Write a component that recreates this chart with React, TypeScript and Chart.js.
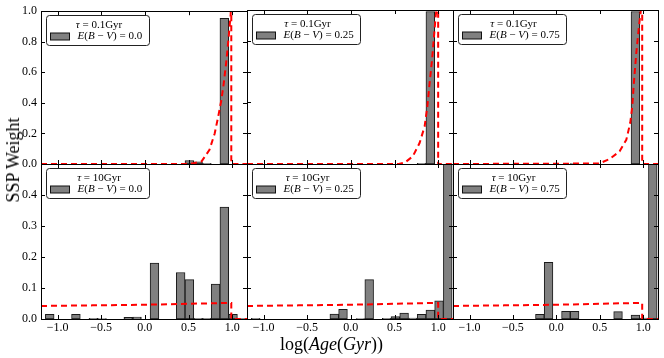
import React, { useEffect, useRef } from 'react';
import { Chart, registerables } from 'chart.js';

Chart.register(...registerables);

const PAGE_W = 664;
const PAGE_H = 358;
const FONT = '"Liberation Serif", "Times New Roman", serif';

const X_MIN = -1.19;
const X_MAX = 1.17;

// histogram bin centres, log(Age/Gyr)
const binCenters = [-1.09, -0.99, -0.89, -0.79, -0.69, -0.59, -0.49, -0.39, -0.29, -0.19, -0.09, 0.01, 0.11, 0.21, 0.31, 0.41, 0.51, 0.61, 0.71, 0.81, 0.91, 1.01, 1.11];

// SSP weights per bin
const weightsTau01Ebv000 = [0, 0, 0, 0, 0, 0, 0, 0, 0, 0, 0, 0, 0, 0, 0, 0, 0.023, 0.015, 0.004, 0, 0.953, 0, 0];
const weightsTau01Ebv025 = [0, 0, 0, 0, 0, 0, 0, 0, 0, 0, 0, 0, 0, 0, 0, 0, 0, 0, 0, 0.004, 0.99, 0, 0];
const weightsTau01Ebv075 = [0, 0, 0, 0, 0, 0, 0, 0, 0, 0, 0, 0, 0, 0.003, 0, 0, 0, 0, 0, 0, 0.99, 0, 0];
const weightsTau10Ebv000 = [0.015, 0, 0, 0.015, 0, 0.002, 0.001, 0, 0, 0.005, 0.006, 0, 0.18, 0, 0, 0.15, 0.127, 0.002, 0.002, 0.113, 0.361, 0.015, 0.002];
const weightsTau10Ebv025 = [0.002, 0, 0, 0, 0, 0, 0, 0, 0, 0.016, 0.031, 0, 0.001, 0.127, 0, 0.002, 0.008, 0.019, 0.003, 0.015, 0.029, 0.059, 0.62];
const weightsTau10Ebv075 = [0, 0, 0, 0, 0, 0, 0, 0, 0, 0.015, 0.183, 0, 0.025, 0.025, 0, 0, 0, 0, 0.024, 0, 0.013, 0.003, 0.65];

// input star formation histories (red dashed)
const sfhTau01Ebv000X = [-1.19, 0.45, 0.55, 0.65, 0.74, 0.8, 0.84, 0.876, 0.903, 0.934, 0.963, 0.983, 0.99, 0.99, 1.17];
const sfhTau01Ebv000Y = [0, 0, 0.004, 0.017, 0.093, 0.2, 0.31, 0.417, 0.525, 0.676, 0.85, 0.98, 1.1, 0, 0];
const sfhTau01Ebv025X = [-1.19, 0.55, 0.62, 0.71, 0.787, 0.845, 0.876, 0.902, 0.93, 0.952, 0.971, 0.99, 1.0, 1.0, 1.17];
const sfhTau01Ebv025Y = [0, 0, 0.01, 0.05, 0.136, 0.244, 0.373, 0.525, 0.676, 0.827, 0.957, 1.05, 1.1, 0, 0];
const sfhTau01Ebv075X = [-1.19, 0.49, 0.613, 0.728, 0.805, 0.85, 0.874, 0.892, 0.92, 0.95, 0.973, 0.988, 0.988, 1.17];
const sfhTau01Ebv075Y = [0, 0.003, 0.032, 0.082, 0.157, 0.266, 0.373, 0.525, 0.72, 0.89, 1.0, 1.1, 0, 0];
const sfhTau10Ebv000X = [-1.19, -0.6, 0.0, 0.5, 0.96, 0.99, 0.99, 1.17];
const sfhTau10Ebv000Y = [0.042, 0.044, 0.046, 0.049, 0.052, 0.052, 0, 0];
const sfhTau10Ebv025X = [-1.19, -0.6, 0.0, 0.5, 0.97, 1.0, 1.0, 1.17];
const sfhTau10Ebv025Y = [0.042, 0.044, 0.046, 0.049, 0.052, 0.052, 0, 0];
const sfhTau10Ebv075X = [-1.19, -0.6, 0.0, 0.5, 0.96, 0.988, 0.988, 1.17];
const sfhTau10Ebv075Y = [0.042, 0.044, 0.046, 0.049, 0.052, 0.052, 0, 0];

// ticks
const xTicks = [-1.0, -0.5, 0.0, 0.5, 1.0];
const xTickLabels = ['\u22121.0', '\u22120.5', '0.0', '0.5', '1.0'];
const yTicksTop = [0, 0.2, 0.4, 0.6, 0.8, 1.0];
const yTickLabelsTop = ['0.0', '0.2', '0.4', '0.6', '0.8', '1.0'];
const yTicksBottom = [0, 0.1, 0.2, 0.3, 0.4, 0.5];
const yTickLabelsBottom = ['0.0', '0.1', '0.2', '0.3', '0.4', ''];

const tauLabels = ['0.1Gyr', '10Gyr'];
const ebvLabels = ['0.0', '0.25', '0.75'];

// layout (pixels)
const COL_L = [41, 247, 453];
const COL_R = [247, 453, 658];
const ROW_T = [10, 164];
const ROW_B = [164, 319];
const Y_AXIS_W = 34;
const X_AXIS_H = 20;

type PanelDef = {
  row: number;
  col: number;
  weights: number[];
  sfhX: number[];
  sfhY: number[];
};

const panels: PanelDef[] = [
  { row: 0, col: 0, weights: weightsTau01Ebv000, sfhX: sfhTau01Ebv000X, sfhY: sfhTau01Ebv000Y },
  { row: 0, col: 1, weights: weightsTau01Ebv025, sfhX: sfhTau01Ebv025X, sfhY: sfhTau01Ebv025Y },
  { row: 0, col: 2, weights: weightsTau01Ebv075, sfhX: sfhTau01Ebv075X, sfhY: sfhTau01Ebv075Y },
  { row: 1, col: 0, weights: weightsTau10Ebv000, sfhX: sfhTau10Ebv000X, sfhY: sfhTau10Ebv000Y },
  { row: 1, col: 1, weights: weightsTau10Ebv025, sfhX: sfhTau10Ebv025X, sfhY: sfhTau10Ebv025Y },
  { row: 1, col: 2, weights: weightsTau10Ebv075, sfhX: sfhTau10Ebv075X, sfhY: sfhTau10Ebv075Y },
];

function drawSegs(ctx: CanvasRenderingContext2D, segs: [string, boolean][], x: number, y: number, size: number) {
  let cx = x;
  for (const [t, it] of segs) {
    ctx.font = `${it ? 'italic ' : ''}${size}px ${FONT}`;
    ctx.fillText(t, cx, y);
    cx += ctx.measureText(t).width;
  }
}
function measureSegs(ctx: CanvasRenderingContext2D, segs: [string, boolean][], size: number) {
  let w = 0;
  for (const [t, it] of segs) {
    ctx.font = `${it ? 'italic ' : ''}${size}px ${FONT}`;
    w += ctx.measureText(t).width;
  }
  return w;
}

function makeFramePlugin(yTicks: number[]) {
  return {
    id: 'frameTicks',
    afterDatasetsDraw(chart: any) {
      const { ctx, chartArea: a, scales } = chart;
      const x = scales.x, y = scales.y;
      ctx.save();
      ctx.strokeStyle = '#000';
      ctx.lineWidth = 1;
      ctx.beginPath();
      const tl = 4;
      for (const v of xTicks) {
        const px = Math.round(x.getPixelForValue(v)) + 0.5;
        ctx.moveTo(px, a.bottom);
        ctx.lineTo(px, a.bottom - tl);
        ctx.moveTo(px, a.top);
        ctx.lineTo(px, a.top + tl);
      }
      for (const v of yTicks) {
        const py = Math.round(y.getPixelForValue(v)) + 0.5;
        ctx.moveTo(a.left, py);
        ctx.lineTo(a.left + tl, py);
        ctx.moveTo(a.right, py);
        ctx.lineTo(a.right - tl, py);
      }
      ctx.stroke();
      ctx.strokeRect(Math.round(a.left) + 0.5, Math.round(a.top) + 0.5, Math.round(a.right - a.left), Math.round(a.bottom - a.top));
      ctx.restore();
    },
  };
}

function makeLegendPlugin(tau: string, ebv: string) {
  return {
    id: 'sspLegend',
    afterDraw(chart: any) {
      const { ctx, chartArea: a } = chart;
      const size = 11;
      const titleSegs: [string, boolean][] = [['\u03C4', true], [` = ${tau}`, false]];
      const labelSegs: [string, boolean][] = [['E', true], ['(', false], ['B', true], [' \u2212 ', false], ['V', true], [`) = ${ebv}`, false]];
      ctx.save();
      const labelW = measureSegs(ctx, labelSegs, size);
      const titleW = measureSegs(ctx, titleSegs, size);
      const x0 = Math.round(a.left + 5) + 0.5;
      const y0 = Math.round(a.top + 4) + 0.5;
      const w = Math.round(31 + labelW + 7);
      const h = 30;
      const r = 3;
      ctx.beginPath();
      ctx.moveTo(x0 + r, y0);
      ctx.lineTo(x0 + w - r, y0);
      ctx.quadraticCurveTo(x0 + w, y0, x0 + w, y0 + r);
      ctx.lineTo(x0 + w, y0 + h - r);
      ctx.quadraticCurveTo(x0 + w, y0 + h, x0 + w - r, y0 + h);
      ctx.lineTo(x0 + r, y0 + h);
      ctx.quadraticCurveTo(x0, y0 + h, x0, y0 + h - r);
      ctx.lineTo(x0, y0 + r);
      ctx.quadraticCurveTo(x0, y0, x0 + r, y0);
      ctx.closePath();
      ctx.fillStyle = '#ffffff';
      ctx.fill();
      ctx.strokeStyle = '#222';
      ctx.lineWidth = 1;
      ctx.stroke();
      ctx.fillStyle = '#000';
      ctx.textBaseline = 'middle';
      ctx.textAlign = 'left';
      drawSegs(ctx, titleSegs, x0 + w / 2 - titleW / 2 + 1, y0 + 9.5, size);
      ctx.fillStyle = '#808080';
      ctx.fillRect(x0 + 4, y0 + 17.5, 19, 7);
      ctx.strokeStyle = '#111';
      ctx.strokeRect(x0 + 4, y0 + 17.5, 19, 7);
      ctx.fillStyle = '#000';
      drawSegs(ctx, labelSegs, x0 + 31, y0 + 21, size);
      ctx.restore();
    },
  };
}

function Panel({ p }: { p: PanelDef }) {
  const ref = useRef<HTMLCanvasElement>(null);
  useEffect(() => {
    if (!ref.current) return;
    const showY = p.col === 0;
    const showX = p.row === 1;
    const L = COL_L[p.col], R = COL_R[p.col], T = ROW_T[p.row], B = ROW_B[p.row];
    const yTicks = p.row === 0 ? yTicksTop : yTicksBottom;
    const yLabels = p.row === 0 ? yTickLabelsTop : yTickLabelsBottom;
    const yMax = p.row === 0 ? 1.0 : 0.5;
    const chart = new Chart(ref.current, {
      type: 'bar',
      data: {
        datasets: [
          {
            type: 'line',
            data: p.sfhX.map((x, i) => ({ x, y: p.sfhY[i] })),
            borderColor: '#ff0000',
            borderWidth: 2,
            borderDash: [6, 4],
            pointRadius: 0,
            tension: 0,
            fill: false,
            clip: 0,
            order: 0,
          } as any,
          {
            type: 'bar',
            data: binCenters.map((x, i) => ({ x, y: p.weights[i] })),
            backgroundColor: '#808080',
            borderColor: '#1a1a1a',
            borderWidth: 1,
            borderSkipped: false,
            barPercentage: 1,
            categoryPercentage: 1,
            clip: 0,
            order: 1,
          } as any,
        ],
      },
      options: {
        animation: false,
        responsive: false,
        devicePixelRatio: 1,
        events: [],
        layout: {
          padding: {
            left: showY ? L - Y_AXIS_W : L,
            right: PAGE_W - R,
            top: T,
            bottom: showX ? PAGE_H - B - X_AXIS_H : PAGE_H - B,
          },
        },
        plugins: { legend: { display: false }, tooltip: { enabled: false } },
        scales: {
          x: {
            type: 'linear',
            min: X_MIN,
            max: X_MAX,
            offset: false,
            grid: { display: false, drawTicks: false, tickLength: 0 },
            border: { display: false },
            afterBuildTicks: (s: any) => {
              s.ticks = xTicks.map((v) => ({ value: v }));
            },
            afterFit: (s: any) => {
              s.height = showX ? X_AXIS_H : 0;
            },
            ticks: {
              display: showX,
              autoSkip: false,
              maxRotation: 0,
              padding: 2,
              color: '#000',
              font: { family: FONT, size: 12 },
              callback: (v: any) => xTickLabels[xTicks.indexOf(v)] ?? '',
            },
          },
          y: {
            type: 'linear',
            min: 0,
            max: yMax,
            grid: { display: false, drawTicks: false, tickLength: 0 },
            border: { display: false },
            afterBuildTicks: (s: any) => {
              s.ticks = yTicks.map((v) => ({ value: v }));
            },
            afterFit: (s: any) => {
              s.width = showY ? Y_AXIS_W : 0;
            },
            ticks: {
              display: showY,
              autoSkip: false,
              padding: 4,
              color: '#000',
              font: { family: FONT, size: 12 },
              callback: (v: any) => yLabels[yTicks.indexOf(v)] ?? '',
            },
          },
        },
      } as any,
      plugins: [makeFramePlugin(yTicks), makeLegendPlugin(tauLabels[p.row], ebvLabels[p.col])],
    });
    return () => chart.destroy();
  }, [p]);
  return <canvas ref={ref} width={PAGE_W} height={PAGE_H} style={{ position: 'absolute', left: 0, top: 0 }} />;
}

export default function App() {
  return (
    <div
      style={{
        position: 'fixed',
        left: 0,
        top: 0,
        width: PAGE_W,
        height: PAGE_H,
        background: '#ffffff',
        fontFamily: FONT,
        color: '#000',
        overflow: 'hidden',
      }}
    >
      {panels.map((p, i) => (
        <Panel key={i} p={p} />
      ))}
      <div
        style={{
          position: 'absolute',
          left: 331.5,
          top: 344,
          transform: 'translate(-50%, -50%)',
          fontSize: 18,
          lineHeight: 1,
          whiteSpace: 'nowrap',
        }}
      >
        log(<i>Age</i>(<i>Gyr</i>))
      </div>
      <div
        style={{
          position: 'absolute',
          left: 13,
          top: 160,
          transform: 'translate(-50%, -50%) rotate(-90deg)',
          fontSize: 18,
          lineHeight: 1,
          whiteSpace: 'nowrap',
        }}
      >
        SSP Weight
      </div>
    </div>
  );
}
